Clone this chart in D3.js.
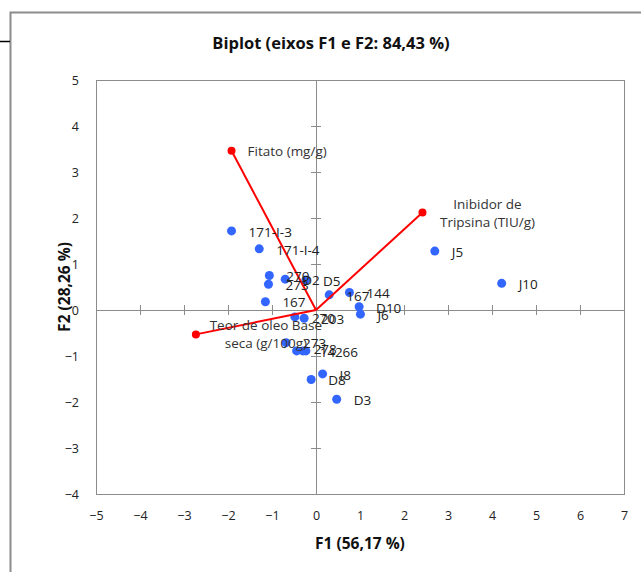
<!DOCTYPE html>
<html>
<head>
<meta charset="utf-8">
<script src="https://cdn.jsdelivr.net/npm/d3@7"></script>
<style>
  body { margin: 0; background: #fff; }
  text { font-family: "Open Sans", "Liberation Sans", sans-serif; }
</style>
</head>
<body>
<div id="chart"></div>
<script>
// observations (scores)
var obsNames = ["171-I-3", "171-I-4", "270", "273", "D2", "D5", "167", "144", "D10", "J6",
                "167", "270", "203", "273", "278", "14", "266", "I8", "D8", "D3", "J5", "J10"];
var obsF1 = [-1.92, -1.29, -1.06, -1.08, -0.70, -0.23, 0.30, 0.76, 0.98, 1.01,
             -1.15, -0.48, -0.27, -0.68, -0.44, -0.30, -0.23, 0.15, -0.11, 0.47, 2.70, 4.22];
var obsF2 = [1.72, 1.33, 0.75, 0.56, 0.67, 0.65, 0.33, 0.38, 0.07, -0.09,
             0.18, -0.15, -0.18, -0.71, -0.89, -0.89, -0.89, -1.39, -1.51, -1.94, 1.28, 0.58];

// variables (loadings)
var varLines = [["Fitato (mg/g)"], ["Inibidor de", "Tripsina (TIU/g)"], ["Teor de oleo Base", "seca (g/100g)"]];
var varF1 = [-1.92, 2.42, -2.73];
var varF2 = [3.46, 2.12, -0.53];

var xTicks = [-5, -4, -3, -2, -1, 0, 1, 2, 3, 4, 5, 6, 7];
var yTicks = [-4, -3, -2, -1, 0, 1, 2, 3, 4, 5];

// label placement tweaks (pixels) for crowded labels
var labelNudge = { 14: [0, -3], 16: [12, 0] };
var varLabel = [
  { dx: 16, dy: 0, anchor: "start" },
  { dx: 65, dy: -8, anchor: "middle" },
  { dx: 70, dy: -9, anchor: "middle" }
];

var svgWidth = 641, svgHeight = 572;
var plot = { left: 96, right: 624, top: 80, bottom: 494 };

var svg = d3.select("#chart").append("svg")
    .attr("width", svgWidth)
    .attr("height", svgHeight);

// outer chart frame
svg.append("path")
    .attr("d", "M641,12.5 H10.5 V572")
    .attr("fill", "none")
    .attr("stroke", "#8c8c8c")
    .attr("stroke-width", 2);
svg.append("line")
    .attr("x1", 0).attr("x2", 10).attr("y1", 41.5).attr("y2", 41.5)
    .attr("stroke", "#000").attr("stroke-width", 1.5);

var x = d3.scaleLinear().domain([-5, 7]).range([plot.left, plot.right]);
var y = d3.scaleLinear().domain([-4, 5]).range([plot.bottom, plot.top]);

// plot border
svg.append("rect")
    .attr("x", plot.left + 0.5).attr("y", plot.top + 0.5)
    .attr("width", plot.right - plot.left).attr("height", plot.bottom - plot.top)
    .attr("fill", "none").attr("stroke", "#8c8c8c");

// tick labels at the edges
var xAxis = svg.append("g")
    .attr("transform", `translate(0, ${plot.bottom + 14})`)
    .call(d3.axisBottom(x).tickValues(xTicks).tickSize(0).tickFormat(d3.format("d")));
var yAxis = svg.append("g")
    .attr("transform", `translate(${plot.left - 14}, 0)`)
    .call(d3.axisLeft(y).tickValues(yTicks).tickSize(0).tickFormat(d3.format("d")));
[xAxis, yAxis].forEach(function(a) {
    a.select(".domain").remove();
    a.selectAll("text").attr("font-size", 12.5).attr("fill", "#222")
        .attr("font-family", "Open Sans, sans-serif");
});

// axes through origin with cross ticks
var axisG = svg.append("g").attr("stroke", "#8c8c8c").attr("stroke-width", 1);
axisG.append("line")
    .attr("x1", plot.left).attr("x2", plot.right)
    .attr("y1", Math.round(y(0)) + 0.5).attr("y2", Math.round(y(0)) + 0.5);
axisG.append("line")
    .attr("y1", plot.top).attr("y2", plot.bottom)
    .attr("x1", Math.round(x(0)) + 0.5).attr("x2", Math.round(x(0)) + 0.5);
axisG.selectAll(".xt").data(xTicks.filter(d => d > -5 && d < 7 && d !== 0)).enter()
    .append("line")
    .attr("x1", d => Math.round(x(d)) + 0.5).attr("x2", d => Math.round(x(d)) + 0.5)
    .attr("y1", y(0) - 5).attr("y2", y(0) + 5);
axisG.selectAll(".yt").data(yTicks.filter(d => d > -4 && d < 5 && d !== 0)).enter()
    .append("line")
    .attr("y1", d => Math.round(y(d)) + 0.5).attr("y2", d => Math.round(y(d)) + 0.5)
    .attr("x1", x(0) - 5).attr("x2", x(0) + 5);

// title and axis titles
svg.append("text")
    .attr("x", 331).attr("y", 49)
    .attr("text-anchor", "middle")
    .attr("font-size", 16.5).attr("font-weight", "bold").attr("fill", "#111")
    .text("Biplot (eixos F1 e F2: 84,43 %)");
svg.append("text")
    .attr("x", (plot.left + plot.right) / 2).attr("y", 549)
    .attr("text-anchor", "middle")
    .attr("font-size", 15.5).attr("font-weight", "bold").attr("fill", "#111")
    .text("F1 (56,17 %)");
svg.append("text")
    .attr("transform", `translate(70, ${(plot.top + plot.bottom) / 2}) rotate(-90)`)
    .attr("text-anchor", "middle")
    .attr("font-size", 15.5).attr("font-weight", "bold").attr("fill", "#111")
    .text("F2 (28,26 %)");

// observation points
var obs = obsNames.map((n, i) => ({ name: n, f1: obsF1[i], f2: obsF2[i], i: i }));
svg.append("g").selectAll("circle")
    .data(obs).enter()
    .append("circle")
    .attr("cx", d => x(d.f1))
    .attr("cy", d => y(d.f2))
    .attr("r", 4.5)
    .attr("fill", "#3366ff");

// variable vectors
var vars = varLines.map((l, i) => ({ lines: l, f1: varF1[i], f2: varF2[i], i: i }));
var vg = svg.append("g");
vg.selectAll("line")
    .data(vars).enter()
    .append("line")
    .attr("x1", x(0)).attr("y1", y(0))
    .attr("x2", d => x(d.f1)).attr("y2", d => y(d.f2))
    .attr("stroke", "#ff0000").attr("stroke-width", 2);
vg.selectAll("circle")
    .data(vars).enter()
    .append("circle")
    .attr("cx", d => x(d.f1)).attr("cy", d => y(d.f2))
    .attr("r", 4)
    .attr("fill", "#ff0000");

// observation labels
svg.append("g").selectAll("text")
    .data(obs).enter()
    .append("text")
    .attr("x", d => x(d.f1) + 17 + (labelNudge[d.i] ? labelNudge[d.i][0] : 0))
    .attr("y", d => y(d.f2) + 1 + (labelNudge[d.i] ? labelNudge[d.i][1] : 0))
    .attr("dy", "0.35em")
    .attr("font-size", 13.5).attr("fill", "#222")
    .text(d => d.name);

// variable labels
vars.forEach(function(d) {
    var p = varLabel[d.i];
    var t = svg.append("text")
        .attr("text-anchor", p.anchor)
        .attr("font-size", 13.5).attr("fill", "#333");
    d.lines.forEach(function(line, k) {
        t.append("tspan")
            .attr("x", x(d.f1) + p.dx)
            .attr("y", y(d.f2) + p.dy + k * 18)
            .attr("dy", "0.35em")
            .text(line);
    });
});
</script>
</body>
</html>
